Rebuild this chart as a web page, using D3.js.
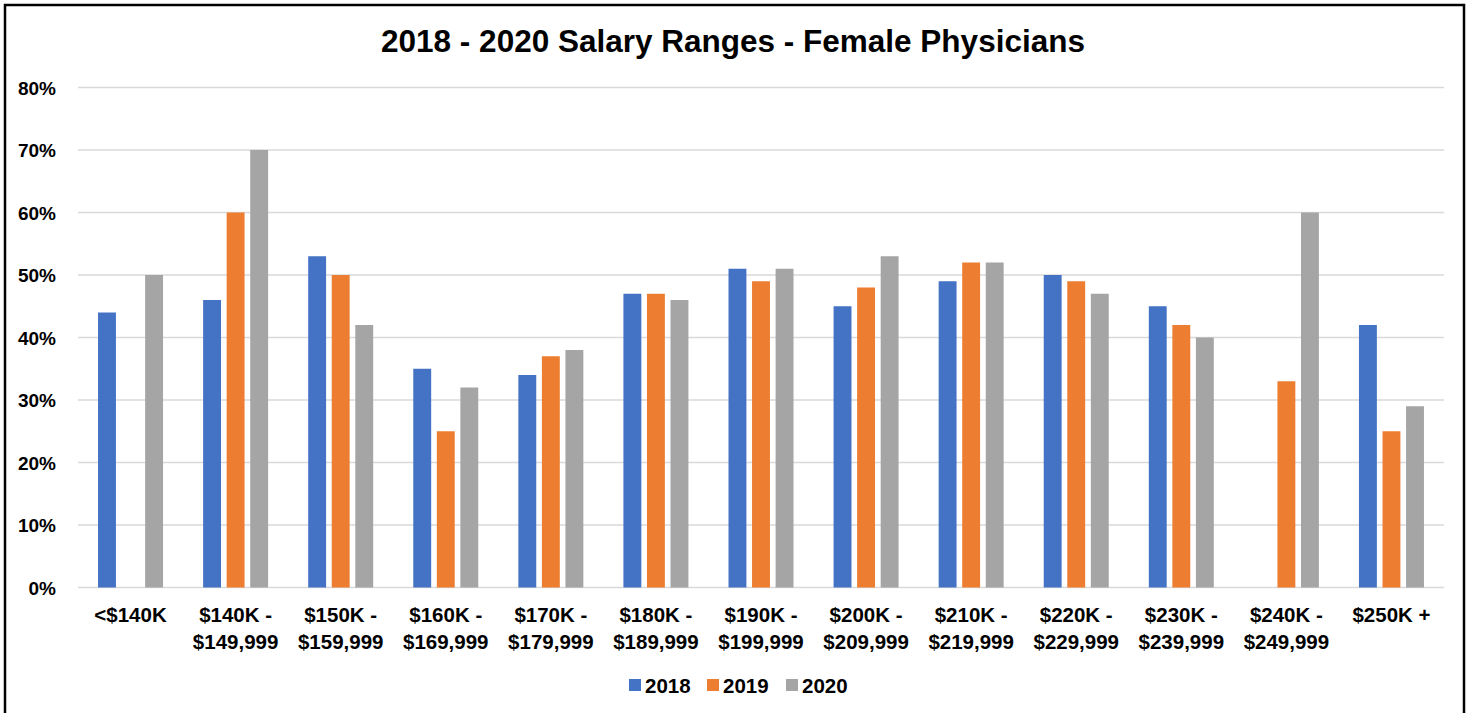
<!DOCTYPE html>
<html>
<head>
<meta charset="utf-8">
<script src="https://cdn.jsdelivr.net/npm/d3@7"></script>
<style>
  body { margin: 0; background: #fff; }
  text { font-family: "Liberation Sans", Arial, sans-serif; font-weight: bold; fill: #000; }
</style>
</head>
<body>
<svg width="1472" height="713"></svg>
<script>
// data
var categories = ["<$140K", "$140K - $149,999", "$150K - $159,999", "$160K - $169,999",
  "$170K - $179,999", "$180K - $189,999", "$190K - $199,999", "$200K - $209,999",
  "$210K - $219,999", "$220K - $229,999", "$230K - $239,999", "$240K - $249,999", "$250K +"];
var years = ["2018", "2019", "2020"];
var values2018 = [44, 46, 53, 35, 34, 47, 51, 45, 49, 50, 45, null, 42];
var values2019 = [null, 60, 50, 25, 37, 47, 49, 48, 52, 49, 42, 33, 25];
var values2020 = [50, 70, 42, 32, 38, 46, 51, 53, 52, 47, 40, 60, 29];
var yTicks = [0, 10, 20, 30, 40, 50, 60, 70, 80];
var colors = ["#4472C4", "#ED7D31", "#A5A5A5"];

var series = [values2018, values2019, values2020];

var svg = d3.select("svg");

// outer frame
svg.append("rect").attr("x", 5).attr("y", 5).attr("width", 1459).attr("height", 720)
  .attr("fill", "#fff").attr("stroke", "#000").attr("stroke-width", 2.5);

var plotLeft = 78, plotRight = 1444, plotTop = 87.5, plotBottom = 587.5;

var x0 = d3.scaleBand().domain(categories).range([plotLeft, plotRight]).padding(0);
var x1 = d3.scaleBand().domain(years).range([0, 65]).paddingInner(0.24);
var y = d3.scaleLinear().domain([0, 80]).range([plotBottom, plotTop]);

// title
svg.append("text").attr("x", 733).attr("y", 52).attr("text-anchor", "middle")
  .style("font-size", "31.5px").text("2018 - 2020 Salary Ranges - Female Physicians");

// gridlines
svg.append("g").selectAll("line").data(yTicks).join("line")
  .attr("x1", plotLeft).attr("x2", plotRight)
  .attr("y1", function(d) { return y(d); }).attr("y2", function(d) { return y(d); })
  .attr("stroke", "#d9d9d9").attr("stroke-width", 1.5);

// y axis labels
var yAxis = d3.axisLeft(y).tickValues(yTicks).tickFormat(function(d) { return d + "%"; }).tickSize(0).tickPadding(0);
var ya = svg.append("g").attr("transform", "translate(56,0)").call(yAxis);
ya.select(".domain").remove();
ya.selectAll("text").style("font-size", "19px").attr("dy", "0.36em")
  .style("font-family", "'Liberation Sans', Arial, sans-serif").style("font-weight", "bold").attr("fill", "#000");

// bars
var groups = svg.append("g").selectAll("g").data(categories).join("g")
  .attr("transform", function(d) { return "translate(" + (x0(d) + x0.bandwidth() / 2 - 32.5) + ",0)"; });

groups.selectAll("rect").data(function(d, i) {
    return years.map(function(yr, j) { return { year: yr, v: series[j][i], c: colors[j] }; });
  }).join("rect")
  .filter(function(d) { return d.v != null; })
  .attr("x", function(d) { return x1(d.year); })
  .attr("width", x1.bandwidth())
  .attr("y", function(d) { return y(d.v); })
  .attr("height", function(d) { return plotBottom - y(d.v); })
  .attr("fill", function(d) { return d.c; });

// x labels
var xl = svg.append("g").selectAll("text").data(categories).join("text")
  .attr("text-anchor", "middle").style("font-size", "20.5px")
  .attr("transform", function(d) { return "translate(" + (x0(d) + x0.bandwidth() / 2) + ",622)"; });
xl.each(function(d) {
  var parts = d.split(" - ");
  var t = d3.select(this);
  if (parts.length == 2) {
    t.append("tspan").attr("x", 0).attr("y", 0).text(parts[0] + " -");
    t.append("tspan").attr("x", 0).attr("y", 27).text(parts[1]);
  } else {
    t.append("tspan").attr("x", 0).attr("y", 0).text(d);
  }
});

// legend
var legendX = [629, 707, 786];
var lg = svg.append("g").selectAll("g").data(years).join("g")
  .attr("transform", function(d, i) { return "translate(" + legendX[i] + ",679)"; });
lg.append("rect").attr("width", 12).attr("height", 12).attr("fill", function(d, i) { return colors[i]; });
lg.append("text").attr("x", 16).attr("y", 13.5).style("font-size", "20.5px").text(function(d) { return d; });
</script>
</body>
</html>
